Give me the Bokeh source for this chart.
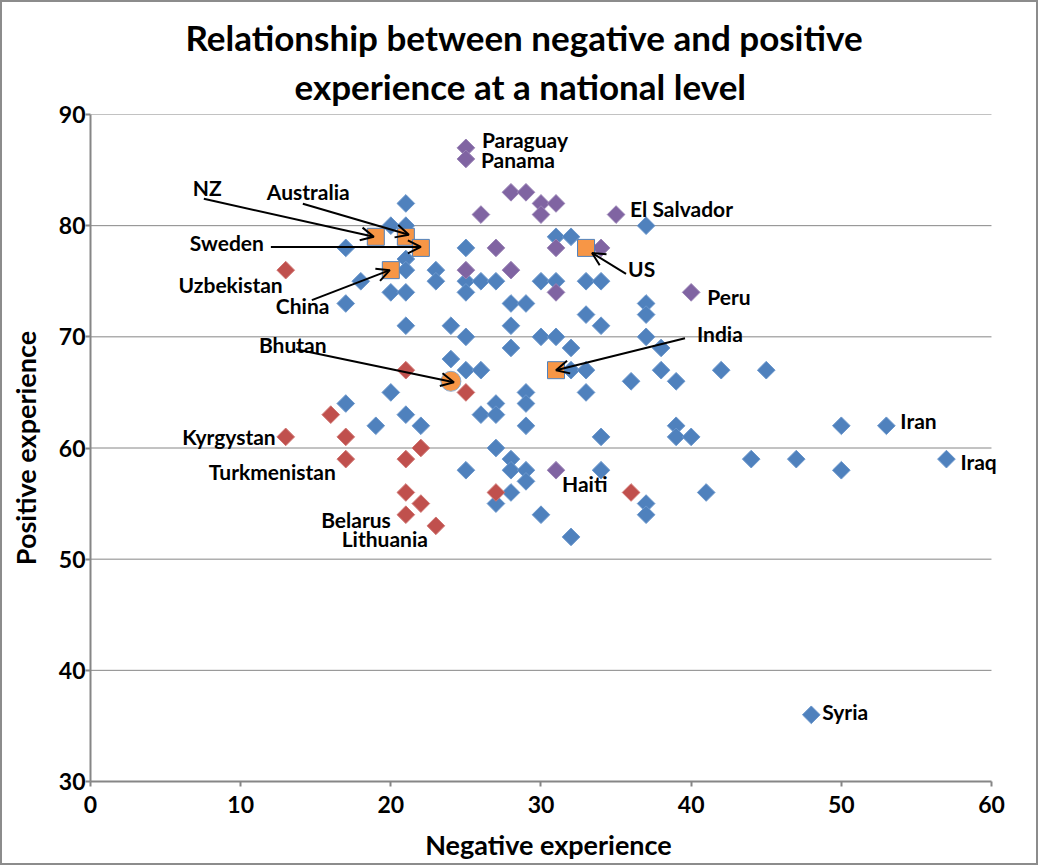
from bokeh.plotting import figure
from bokeh.models import Label, Arrow, OpenHead, Title, Range1d, FixedTicker
from bokeh.embed import file_html
from bokeh.resources import INLINE

# ---------------- data (negative experience, positive experience) ----------------
blue_x = [21, 20, 21, 37, 31, 32, 17, 25, 21, 21, 23, 18, 23, 25, 26, 27, 30, 31, 33, 34,
          20, 21, 25, 17, 28, 29, 37, 33, 37, 21, 24, 28, 34, 25, 30, 31, 37, 28, 32, 38,
          24, 25, 26, 32, 33, 38, 42, 45, 36, 39, 20, 29, 33, 17, 27, 29, 21, 26, 27, 19,
          22, 29, 39, 50, 34, 39, 40, 27, 28, 44, 47, 25, 28, 29, 34, 50, 29, 28, 41, 27,
          37, 30, 37, 32, 53, 57, 48]
blue_y = [82, 80, 80, 80, 79, 79, 78, 78, 77, 76, 76, 75, 75, 75, 75, 75, 75, 75, 75, 75,
          74, 74, 74, 73, 73, 73, 73, 72, 72, 71, 71, 71, 71, 70, 70, 70, 70, 69, 69, 69,
          68, 67, 67, 67, 67, 67, 67, 67, 66, 66, 65, 65, 65, 64, 64, 64, 63, 63, 63, 62,
          62, 62, 62, 62, 61, 61, 61, 60, 59, 59, 59, 58, 58, 58, 58, 58, 57, 56, 56, 55,
          55, 54, 54, 52, 62, 59, 36]
blue_names = {"Iran": 84, "Iraq": 85, "Syria": 86}

red_x = [13, 21, 25, 16, 13, 17, 22, 17, 21, 21, 27, 22, 21, 23, 36]
red_y = [76, 67, 65, 63, 61, 61, 60, 59, 59, 56, 56, 55, 54, 53, 56]
red_names = {"Uzbekistan": 0, "Kyrgystan": 4, "Turkmenistan": 7, "Belarus": 12, "Lithuania": 13}

purple_x = [25, 25, 28, 29, 30, 31, 26, 30, 35, 27, 31, 34, 25, 28, 31, 40, 31]
purple_y = [87, 86, 83, 83, 82, 82, 81, 81, 81, 78, 78, 78, 76, 76, 74, 74, 58]
purple_names = {"Paraguay": 0, "Panama": 1, "El Salvador": 8, "Peru": 15, "Haiti": 16}

orange_names = ["NZ", "Australia", "Sweden", "China", "US", "India"]
orange_x = [19, 21, 22, 20, 33, 31]
orange_y = [79, 79, 78, 76, 78, 67]

circle_names = ["Bhutan"]
circle_x = [24]
circle_y = [66]

x_ticks = [0, 10, 20, 30, 40, 50, 60]
y_ticks = [30, 40, 50, 60, 70, 80, 90]

title_line1 = "Relationship between negative and positive"
title_line2 = "experience at a national level"
x_label = "Negative experience"
y_label = "Positive experience"

# ---------------- lookup of named points ----------------
lookup = {}
for nm, i in blue_names.items():
    lookup[nm] = (blue_x[i], blue_y[i])
for nm, i in red_names.items():
    lookup[nm] = (red_x[i], red_y[i])
for nm, i in purple_names.items():
    lookup[nm] = (purple_x[i], purple_y[i])
for nm, xv, yv in zip(orange_names, orange_x, orange_y):
    lookup[nm] = (xv, yv)
for nm, xv, yv in zip(circle_names, circle_x, circle_y):
    lookup[nm] = (xv, yv)

FONT = "Lato"
PX_PER_X = 901 / 60.0          # pixels per x unit
FH = 667
X_EXTRA = 1.0                   # extra room right of the axis end so labels are not clipped
FW = int(round((x_ticks[-1] - x_ticks[0] + X_EXTRA) * PX_PER_X))

p = figure(frame_width=FW, frame_height=FH, output_backend="svg", toolbar_location=None,
           title=None, min_border_left=88, min_border_right=30, min_border_top=112,
           min_border_bottom=80, x_range=Range1d(x_ticks[0], x_ticks[-1] + X_EXTRA),
           y_range=Range1d(y_ticks[0], y_ticks[-1]),
           styles={"border": "2px solid #8c8c8c"})
p.outline_line_color = None
p.background_fill_color = "white"
p.border_fill_color = "white"

p.xgrid.visible = False
p.ygrid.visible = False
p.xaxis.ticker = FixedTicker(ticks=x_ticks)
p.yaxis.ticker = FixedTicker(ticks=y_ticks)
p.xaxis.bounds = (x_ticks[0], x_ticks[-1])
for ax in (p.xaxis[0], p.yaxis[0]):
    ax.axis_line_color = "#868686"
    ax.axis_line_width = 2
    ax.major_tick_line_color = "#868686"
    ax.major_tick_line_width = 2
    ax.major_tick_in = 0
    ax.major_tick_out = 5
    ax.minor_tick_line_color = None
    ax.major_label_text_font = FONT
    ax.major_label_text_font_style = "bold"
    ax.major_label_text_font_size = "23px"
    ax.major_label_text_color = "black"
    ax.axis_label_text_font = FONT
    ax.axis_label_text_font_style = "bold"
    ax.axis_label_text_font_size = "27px"
    ax.axis_label_text_color = "black"
p.xaxis.axis_label = x_label
p.yaxis.axis_label = y_label
p.xaxis.major_label_standoff = 9
p.yaxis.major_label_standoff = 0
p.xaxis.axis_label_standoff = 12
p.yaxis.axis_label_standoff = 14

# horizontal gridlines, limited to the axis extent
gy = y_ticks[1:]
p.segment(x0=[x_ticks[0]] * len(gy), x1=[x_ticks[-1]] * len(gy), y0=gy, y1=gy,
          line_color="#868686", line_width=1)

t2 = Title(text=title_line2, align="left", text_font=FONT, text_font_style="bold",
           text_font_size="35px", text_color="black", offset=204, standoff=15,
           text_line_height=1.1)
p.add_layout(t2, "above")
t1 = Title(text=title_line1, align="left", text_font=FONT, text_font_style="bold",
           text_font_size="35px", text_color="black", offset=95, standoff=-5)
p.add_layout(t1, "above")

# ---------------- markers ----------------
DIAM = 12.5
p.scatter(blue_x, blue_y, marker="square", angle=0.785398, size=DIAM,
          fill_color="#4F81BD", line_color="#6b97cc", line_width=1)
p.scatter(red_x, red_y, marker="square", angle=0.785398, size=DIAM,
          fill_color="#C0504D", line_color="#d07774", line_width=1)
p.scatter(purple_x, purple_y, marker="square", angle=0.785398, size=DIAM,
          fill_color="#8064A2", line_color="#9a84b6", line_width=1)
p.scatter(orange_x, orange_y, marker="square", size=17,
          fill_color="#F79646", line_color="#4F81BD", line_width=1)
p.scatter(circle_x, circle_y, marker="circle", size=20,
          fill_color="#F79646", line_color="#8eaacb", line_width=1)

# ---------------- labels ----------------
SX = 1.0 / PX_PER_X
SY = (y_ticks[-1] - y_ticks[0]) / FH
LABEL_SIZE = "21px"

def add_text(name, align, dx, dy):
    xv, yv = lookup[name]
    p.add_layout(Label(x=xv, y=yv, x_offset=dx, y_offset=-dy, text=name,
                       text_align=align, text_baseline="middle", text_font=FONT,
                       text_font_style="bold", text_font_size=LABEL_SIZE,
                       text_color="black"))

point_labels = [
    ("Paraguay", "left", 16, -8), ("Panama", "left", 15, 1),
    ("El Salvador", "left", 14, -6), ("Peru", "left", 16, 4),
    ("Iran", "left", 14, -5), ("Iraq", "left", 14, 2), ("Syria", "left", 11, -3),
    ("Haiti", "left", 6, 13), ("Kyrgystan", "right", -10, 0),
    ("Turkmenistan", "right", -10, 12), ("Belarus", "right", -15, 5),
    ("Lithuania", "right", -8, 13), ("Uzbekistan", "right", -3, 14),
]
for nm, al, dx, dy in point_labels:
    add_text(nm, al, dx, dy)

# name, text offset, tail offset, tip offset (pixels, y down)
arrow_labels = [
    ("NZ", (-183, -49), (-172, -38), (-2, 0)),
    ("Australia", (-139, -45), (-103, -33), (3, -2)),
    ("Sweden", (-231, -5), (-150, -1), (0, -1)),
    ("China", (-115, 35), (-79, 30), (-1, 0)),
    ("US", (42, 21), (40, 26), (6, 5)),
    ("India", (141, -37), (129, -32), (0, 0)),
    ("Bhutan", (-192, -37), (-155, -32), (3, 1)),
]
for nm, toff, tail, tip in arrow_labels:
    add_text(nm, "left", toff[0], toff[1])
    xv, yv = lookup[nm]
    p.add_layout(Arrow(end=OpenHead(size=13, line_width=2, line_color="black"),
                       x_start=xv + tail[0] * SX, y_start=yv - tail[1] * SY,
                       x_end=xv + tip[0] * SX, y_end=yv - tip[1] * SY,
                       line_width=2, line_color="black"))

open("out.html", "w").write(file_html(p, INLINE))
